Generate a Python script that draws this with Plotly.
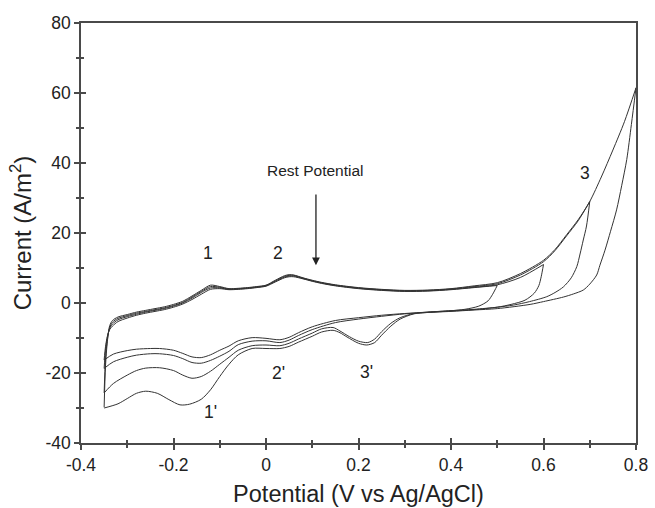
import plotly.graph_objects as go

# ---------------- data ----------------
# shared potential grid of the anodic (forward) sweeps, V vs Ag/AgCl
anodic_x = [-0.35, -0.347, -0.343, -0.338, -0.332, -0.32, -0.3, -0.28, -0.26, -0.24,
            -0.22, -0.2, -0.18, -0.16, -0.14, -0.12, -0.1, -0.08, -0.06, -0.04,
            -0.02, 0.0, 0.02, 0.04, 0.05, 0.06, 0.08, 0.1, 0.12, 0.15,
            0.2, 0.25, 0.3, 0.35, 0.4, 0.45, 0.5, 0.55, 0.6, 0.625,
            0.65, 0.675, 0.7, 0.725, 0.75, 0.775, 0.8]

# loop with upper vertex 0.5 V
anodic_05 = [-16.3, -12.5, -9.5, -7.6, -6.6, -5.3, -4.3, -3.5, -2.9, -2.4,
             -1.9, -1.2, -0.3, 1.0, 2.5, 3.9, 4.1, 3.8, 3.9, 4.1,
             4.4, 4.8, 6.0, 7.2, 7.5, 7.5, 6.9, 6.2, 5.6, 4.9,
             4.1, 3.6, 3.3, 3.4, 3.8, 4.4, 5.0]
cath_x_05 = [0.49, 0.48, 0.46, 0.43, 0.4, 0.35, 0.3, 0.25, 0.2, 0.15,
             0.1, 0.07, 0.05, 0.03, 0.0, -0.03, -0.06, -0.08, -0.1, -0.12,
             -0.14, -0.16, -0.18, -0.2, -0.23, -0.25, -0.28, -0.3, -0.33, -0.35]
cath_y_05 = [2.5, 0.6, -0.9, -1.8, -2.2, -2.6, -3.0, -3.5, -4.2, -5.0,
             -6.8, -8.5, -9.8, -10.5, -10.1, -9.9, -10.8, -12.3, -13.5, -14.8,
             -15.6, -15.4, -14.4, -13.5, -13.0, -13.0, -13.2, -13.6, -14.6, -16.3]

# loop with upper vertex 0.6 V
anodic_06 = [-18.7, -13.5, -9.8, -7.2, -6.0, -4.8, -3.9, -3.2, -2.6, -2.1,
             -1.6, -0.9, 0.0, 1.4, 3.0, 4.3, 4.3, 3.9, 4.0, 4.2,
             4.5, 4.9, 6.2, 7.4, 7.7, 7.7, 7.0, 6.3, 5.7, 5.0,
             4.2, 3.7, 3.4, 3.5, 3.9, 4.5, 5.2, 7.3, 11.0]
cath_x_06 = [0.595, 0.59, 0.58, 0.56, 0.53, 0.5, 0.45, 0.4, 0.35, 0.3,
             0.25, 0.2, 0.15, 0.1, 0.07, 0.05, 0.03, 0.0, -0.03, -0.06,
             -0.08, -0.1, -0.12, -0.14, -0.16, -0.18, -0.2, -0.23, -0.25, -0.28,
             -0.3, -0.33, -0.35]
cath_y_06 = [7.5, 5.0, 2.8, 0.8, -0.4, -1.2, -1.9, -2.3, -2.7, -3.1,
             -3.8, -4.6, -5.6, -7.6, -9.3, -10.6, -11.3, -10.8, -10.9, -11.9,
             -13.8, -15.2, -16.4, -17.2, -17.0, -15.9, -15.0, -14.5, -14.5, -14.9,
             -15.5, -16.8, -18.7]

# loop with upper vertex 0.7 V
anodic_07 = [-25.7, -16.0, -10.5, -7.0, -5.5, -4.4, -3.6, -2.9, -2.4, -1.9,
             -1.4, -0.7, 0.2, 1.7, 3.3, 4.7, 4.5, 4.0, 4.1, 4.3,
             4.6, 5.0, 6.3, 7.6, 7.9, 7.9, 7.1, 6.4, 5.8, 5.1,
             4.3, 3.8, 3.5, 3.6, 4.0, 4.7, 5.5, 8.0, 11.8, 15.0,
             19.2, 23.5, 29.0]
cath_x_07 = [0.693, 0.686, 0.679, 0.672, 0.66, 0.643, 0.625, 0.607, 0.57, 0.535,
             0.5, 0.45, 0.4, 0.35, 0.32, 0.29, 0.27, 0.25, 0.235, 0.22,
             0.2, 0.18, 0.16, 0.145, 0.12, 0.1, 0.07, 0.05, 0.03, 0.0,
             -0.03, -0.06, -0.08, -0.1, -0.12, -0.14, -0.16, -0.18, -0.2, -0.23,
             -0.26, -0.28, -0.3, -0.33, -0.35]
cath_y_07 = [22.0, 18.0, 14.0, 10.4, 7.2, 4.6, 3.0, 1.8, 0.4, -0.6,
             -1.2, -1.8, -2.2, -2.6, -3.0, -4.2, -5.8, -8.2, -10.3, -11.3,
             -10.9, -9.6, -8.0, -7.0, -7.4, -8.6, -10.3, -11.5, -12.2, -12.0,
             -12.2, -13.5, -15.5, -17.5, -19.5, -21.0, -21.5, -20.6, -19.3, -18.5,
             -18.6, -19.3, -20.6, -23.0, -25.7]

# loop with upper vertex 0.8 V
anodic_08 = [-29.8, -18.0, -11.0, -6.5, -5.0, -4.0, -3.3, -2.6, -2.1, -1.6,
             -1.1, -0.4, 0.5, 2.0, 3.6, 5.1, 4.7, 4.1, 4.2, 4.4,
             4.7, 5.1, 6.5, 7.8, 8.1, 8.0, 7.2, 6.5, 5.9, 5.2,
             4.4, 3.9, 3.6, 3.7, 4.1, 4.9, 5.8, 8.4, 12.2, 15.3,
             19.5, 23.8, 29.0, 36.0, 43.7, 51.8, 61.5]
cath_x_08 = [0.79, 0.78, 0.769, 0.758, 0.745, 0.733, 0.722, 0.715, 0.7, 0.686,
             0.665, 0.643, 0.6, 0.571, 0.5, 0.45, 0.4, 0.35, 0.32, 0.29,
             0.27, 0.25, 0.235, 0.218, 0.2, 0.175, 0.16, 0.145, 0.12, 0.1,
             0.07, 0.05, 0.03, 0.0, -0.03, -0.06, -0.08, -0.1, -0.12, -0.14,
             -0.165, -0.186, -0.21, -0.235, -0.26, -0.28, -0.3, -0.32, -0.35]
cath_y_08 = [51.0, 41.0, 33.5, 26.6, 20.5, 15.1, 10.8, 8.0, 5.4, 3.7,
             2.6, 1.7, 0.4, -0.4, -1.6, -2.0, -2.4, -2.7, -3.1, -4.6,
             -6.6, -9.2, -11.3, -12.0, -11.5, -9.7, -8.5, -7.8, -8.3, -9.5,
             -11.2, -12.4, -13.0, -13.0, -13.0, -14.8, -17.5, -21.0, -24.8, -27.5,
             -28.9, -29.1, -27.6, -25.8, -25.2, -25.8, -27.3, -28.8, -30.0]

loops = [
    (anodic_05, cath_x_05, cath_y_05),
    (anodic_06, cath_x_06, cath_y_06),
    (anodic_07, cath_x_07, cath_y_07),
    (anodic_08, cath_x_08, cath_y_08),
]

x_tickvals = [-0.4, -0.2, 0, 0.2, 0.4, 0.6, 0.8]
x_ticktext = ["-0.4", "-0.2", "0", "0.2", "0.4", "0.6", "0.8"]
x_minor = [-0.3, -0.1, 0.1, 0.3, 0.5, 0.7]
y_tickvals = [-40, -20, 0, 20, 40, 60, 80]
y_ticktext = ["-40", "-20", "0", "20", "40", "60", "80"]
y_minor = [-30, -10, 10, 30, 50, 70]

peak_labels = ["1", "2", "3", "1'", "2'", "3'"]
peak_x = [-0.125, 0.026, 0.69, -0.121, 0.026, 0.218]
peak_y = [14.3, 14.3, 37.1, -31.2, -20.1, -19.8]

rest_label = "Rest Potential"
rest_x = 0.108
rest_text_y = 38.0
rest_arrow_from = 31.4
rest_arrow_to = 10.8

# ---------------- figure ----------------
LINE = "#333333"
AX = "#4a4a4a"
FONT = "Liberation Sans, Arial, Helvetica, sans-serif"

fig = go.Figure()
for an_y, cx, cy in loops:
    n = len(an_y)
    fig.add_trace(go.Scatter(x=anodic_x[:n], y=an_y, mode="lines",
                             line=dict(color=LINE, width=1, shape="spline", smoothing=0.8),
                             showlegend=False, hoverinfo="skip"))
    fig.add_trace(go.Scatter(x=[anodic_x[n - 1]] + cx, y=[an_y[-1]] + cy, mode="lines",
                             line=dict(color=LINE, width=1, shape="spline", smoothing=0.8),
                             showlegend=False, hoverinfo="skip"))

# empty trace so the overlay axes (inner half of crossing ticks) are drawn
fig.add_trace(go.Scatter(x=[], y=[], xaxis="x2", yaxis="y2", showlegend=False))

for t, xv, yv in zip(peak_labels, peak_x, peak_y):
    fig.add_annotation(x=xv, y=yv, text=t, showarrow=False,
                       font=dict(family=FONT, size=17.5, color="#222"))

fig.add_annotation(x=rest_x, y=rest_text_y, text=rest_label, showarrow=False,
                   font=dict(family=FONT, size=15.5, color="#222"))
fig.add_annotation(x=rest_x, y=rest_arrow_to, ax=rest_x, ay=rest_arrow_from,
                   xref="x", yref="y", axref="x", ayref="y", text="",
                   showarrow=True, arrowhead=2, arrowsize=1.2, arrowwidth=1.3,
                   arrowcolor="#222")

common_axis = dict(showgrid=False, zeroline=False, automargin=False)

fig.update_layout(
    width=655, height=508,
    margin=dict(l=81, r=19, t=23, b=65),
    paper_bgcolor="white", plot_bgcolor="white",
    font=dict(family=FONT, color="#222"),
    xaxis=dict(range=[-0.4, 0.8], tickmode="array", tickvals=x_tickvals, ticktext=x_ticktext,
               ticks="outside", ticklen=5, tickwidth=1.5, tickcolor=AX,
               showline=True, linecolor=AX, linewidth=1.5, mirror=True,
               minor=dict(ticks="outside", ticklen=3, tickwidth=1.5, tickcolor=AX,
                          tickmode="array", tickvals=x_minor),
               tickfont=dict(size=17.5, family=FONT, color="#222"),
               title=dict(text="Potential (V vs Ag/AgCl)", font=dict(size=23.5, family=FONT, color="#222"),
                          standoff=12),
               **common_axis),
    yaxis=dict(range=[-40, 80], tickmode="array", tickvals=y_tickvals, ticktext=y_ticktext,
               ticks="outside", ticklen=5, tickwidth=1.5, tickcolor=AX,
               showline=True, linecolor=AX, linewidth=1.5, mirror=True,
               minor=dict(ticks="outside", ticklen=3, tickwidth=1.5, tickcolor=AX,
                          tickmode="array", tickvals=y_minor),
               tickfont=dict(size=17.5, family=FONT, color="#222"),
               title=dict(text="Current (A/m<sup>2</sup>)", font=dict(size=24, family=FONT, color="#222"),
                          standoff=7),
               **common_axis),
    xaxis2=dict(range=[-0.4, 0.8], overlaying="x", anchor="y", side="bottom",
                tickmode="array", tickvals=x_tickvals, showticklabels=False,
                ticks="inside", ticklen=5, tickwidth=1.5, tickcolor=AX, showline=False,
                minor=dict(ticks="inside", ticklen=3, tickwidth=1.5, tickcolor=AX,
                           tickmode="array", tickvals=x_minor),
                **common_axis),
    yaxis2=dict(range=[-40, 80], overlaying="y", anchor="x", side="left",
                tickmode="array", tickvals=y_tickvals, showticklabels=False,
                ticks="inside", ticklen=5, tickwidth=1.5, tickcolor=AX, showline=False,
                minor=dict(ticks="inside", ticklen=3, tickwidth=1.5, tickcolor=AX,
                           tickmode="array", tickvals=y_minor),
                **common_axis),
)

fig.write_html("out.html")
